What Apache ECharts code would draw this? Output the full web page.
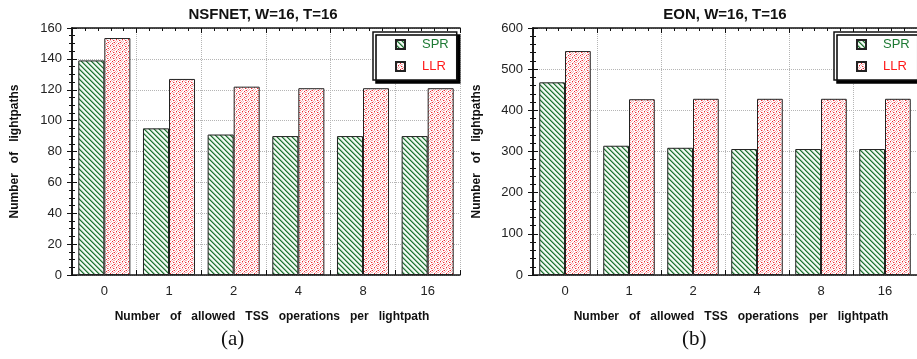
<!DOCTYPE html>
<html><head><meta charset="utf-8">
<script src="https://cdn.jsdelivr.net/npm/echarts@6/dist/echarts.min.js"></script>
<style>html,body{margin:0;padding:0;background:#fff}#c{width:917px;height:359px}</style>
</head><body><div id="c"></div>
<script>
const categories = ['0','1','2','4','8','16'];
const nsfnetSPR = [139, 95, 91, 90, 90, 90];
const nsfnetLLR = [153.5, 127, 122, 121, 121, 121];
const eonSPR = [468, 314, 309, 306, 306, 306];
const eonLLR = [544, 427, 428, 428, 428, 428];
const nsfnetTicks = {min:0, max:160, interval:20};
const eonTicks = {min:0, max:600, interval:100};
const titles = ['NSFNET, W=16, T=16', 'EON, W=16, T=16'];
const seriesNames = ['SPR', 'LLR'];
const xName = 'Number   of   allowed   TSS   operations   per   lightpath';
const yName = 'Number   of   lightpaths';
const subcaps = ['(a)', '(b)'];

function hatch(){
  const n=5;
  const c=document.createElement('canvas'); c.width=c.height=n;
  const g=c.getContext('2d');
  const cols=['#1f6e31','#8fbf99','#e2efe4','#ffffff','#b9d8bf'];
  for(let x=0;x<n;x++)for(let y=0;y<n;y++){
    const d=((x-y)%n+n)%n; g.fillStyle=cols[d]; g.fillRect(x,y,1,1);
  }
  return c;
}
function dots(){
  const P=["rwpwwp","wpwwrw","pwwpwp","wwrwpw","pwpwwr","wpwpww"];
  const col={w:'#ffffff',p:'#f7b0b4',r:'#f02a30'};
  const c=document.createElement('canvas'); c.width=c.height=6;
  const g=c.getContext('2d');
  for(let y=0;y<6;y++)for(let x=0;x<6;x++){g.fillStyle=col[P[y][x]]; g.fillRect(x,y,1,1);}
  return c;
}
const sprFill={image:hatch(),repeat:'repeat'};
const llrFill={image:dots(),repeat:'repeat'};

const FONT='Liberation Sans';
const grids=[{left:72,top:28,width:388,height:247},{left:533,top:28,width:389,height:247}];
const yCfg=[nsfnetTicks,eonTicks];
const ySplit=[4,5];
const data=[[nsfnetSPR,nsfnetLLR],[eonSPR,eonLLR]];
const yNameGap=[51,50];

const xAxis=[],yAxis=[],series=[],legend=[],title=[];
grids.forEach((gr,i)=>{
  xAxis.push({type:'category',gridIndex:i,data:categories,position:'bottom',
    axisLine:{lineStyle:{color:'#111',width:1.5}},axisTick:{show:false},
    axisLabel:{color:'#222',fontFamily:FONT,fontSize:13,margin:10},
    splitLine:{show:true,lineStyle:{color:'#b5b5b5',type:'dotted',width:1}},
    name:xName,nameLocation:'middle',nameGap:36,
    nameTextStyle:{fontFamily:FONT,fontWeight:'bold',fontSize:12,color:'#111',padding:[0,0,0,12]}});
  ['bottom','top'].forEach(pos=>{
    xAxis.push({type:'value',gridIndex:i,position:pos,min:0,max:6,interval:1,
      axisLine:{show:pos==='top',lineStyle:{color:'#111',width:1.5}},
      axisLabel:{show:false},splitLine:{show:false},
      axisTick:{show:true,inside:true,length:5,lineStyle:{color:'#111'}},
      minorTick:{show:true,splitNumber:5,length:3,lineStyle:{color:'#111'}}});
  });
  const yc=yCfg[i];
  yAxis.push({type:'value',gridIndex:i,position:'left',min:yc.min,max:yc.max,interval:yc.interval,
    axisLine:{show:true,lineStyle:{color:'#111',width:1.5}},
    axisTick:{show:true,inside:true,length:5,lineStyle:{color:'#111'}},
    minorTick:{show:true,splitNumber:ySplit[i],length:3,lineStyle:{color:'#111'}},
    axisLabel:{color:'#222',fontFamily:FONT,fontSize:13,margin:10},
    splitLine:{show:true,lineStyle:{color:'#b5b5b5',type:'dotted',width:1}},
    name:yName,nameLocation:'middle',nameGap:yNameGap[i],
    nameTextStyle:{fontFamily:FONT,fontWeight:'bold',fontSize:12,color:'#111'}});
  yAxis.push({type:'value',gridIndex:i,position:'right',min:yc.min,max:yc.max,interval:yc.interval,
    axisLine:{show:true,lineStyle:{color:'#111',width:1.5}},
    axisTick:{show:true,inside:true,length:5,lineStyle:{color:'#111'}},
    minorTick:{show:true,splitNumber:ySplit[i],length:3,lineStyle:{color:'#111'}},
    axisLabel:{show:false},splitLine:{show:false}});
  const fills=[sprFill,llrFill];
  seriesNames.forEach((nm,k)=>{
    series.push({name:nm,type:'bar',xAxisIndex:i*3,yAxisIndex:i*2,data:data[i][k],
      barGap:'0%',barCategoryGap:'19.5%',
      itemStyle:{color:fills[k],borderColor:'#222',borderWidth:1},
      emphasis:{disabled:true}});
  });
  legend.push({left:i===0?373:834,top:32,orient:'vertical',icon:'rect',
    data:[{name:'SPR',textStyle:{color:'#1e7a34'}},{name:'LLR',textStyle:{color:'#ff1a1a'}}],
    itemWidth:9,itemHeight:9,itemGap:9,
    textStyle:{fontFamily:FONT,fontSize:13,padding:[0,0,0,12]},
    backgroundColor:'#fff',borderColor:'#111',borderWidth:1.5,borderRadius:0,
    padding:[6,8,7,22],shadowColor:'#000',shadowBlur:0,shadowOffsetX:3,shadowOffsetY:3,
    selectedMode:false});
  title.push({text:titles[i],left:i===0?258:720,textAlign:'center',top:2,
    textStyle:{fontFamily:FONT,fontWeight:'bold',fontSize:15,color:'#111'}});
});

const chart=echarts.init(document.getElementById('c'),null,{renderer:'canvas'});
chart.setOption({
  animation:false,
  title:title,
  grid:grids,
  xAxis:xAxis,yAxis:yAxis,series:series,legend:legend,
  graphic:[
    {type:'text',left:221,top:329,style:{text:subcaps[0],font:'21px "Liberation Serif"',fill:'#111'}},
    {type:'text',left:682,top:329,style:{text:subcaps[1],font:'21px "Liberation Serif"',fill:'#111'}}
  ]
});
</script></body></html>
